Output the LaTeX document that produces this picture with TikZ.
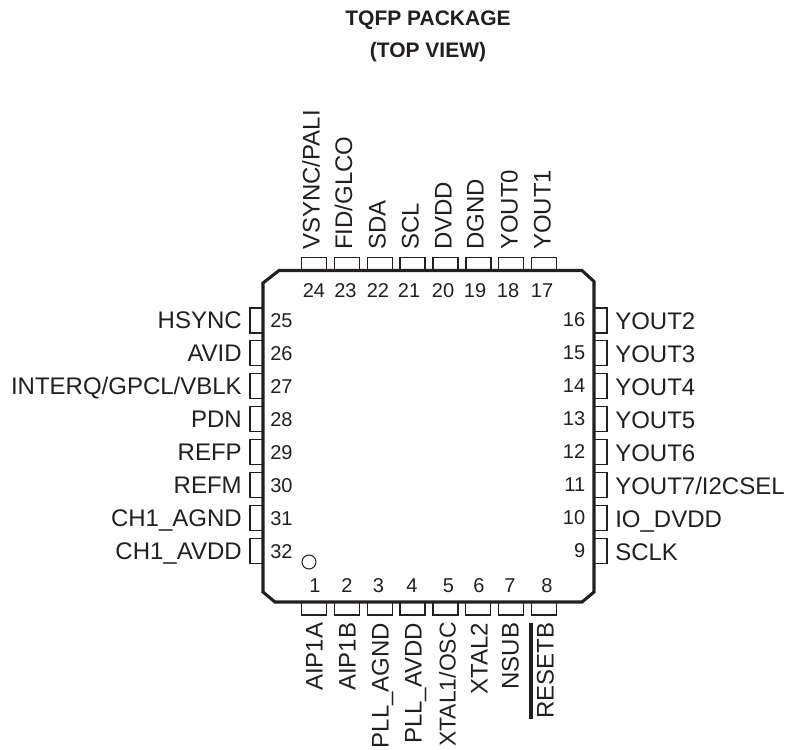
\documentclass[tikz,border=0pt]{standalone}
\usepackage{fontspec}
\setmainfont{Liberation Sans}
\definecolor{ink}{HTML}{231F20}
\tikzset{
  pinbox/.style={draw=ink, line width=1.4pt, rectangle, inner sep=0pt},
  pinh/.style={pinbox, minimum width=18.75pt, minimum height=9.75pt},
  pinv/.style={pinbox, minimum width=9.75pt, minimum height=18.75pt},
  pinnum/.style={text=ink, inner sep=0pt, font=\fontsize{15}{18}\selectfont, text height=10.8pt, text depth=0pt},
  pinname/.style={text=ink, inner sep=0pt, font=\fontsize{18}{20}\selectfont, text height=12.9pt, text depth=0pt},
  topname/.style={pinname, rotate=90, anchor=west},
  botname/.style={pinname, rotate=90, anchor=east},
  lefname/.style={pinname, anchor=east},
  rigname/.style={pinname, anchor=west},
}
\begin{document}
\begin{tikzpicture}[x=0.75pt, y=-0.75pt]
\useasboundingbox (0,0) rectangle (786,750);

\node[text=ink, align=center, font=\fontsize{15.75}{24}\selectfont\bfseries] (title) at (428,36) {TQFP PACKAGE\\(TOP VIEW)};

% top row
\node[pinh] (p24) at (314,264) {};
\node[pinh] (p23) at (347,264) {};
\node[pinh] (p22) at (380,264) {};
\node[pinh] (p21) at (412.7,264) {};
\node[pinh] (p20) at (445.5,264) {};
\node[pinh] (p19) at (478.5,264) {};
\node[pinh] (p18) at (511,264) {};
\node[pinh] (p17) at (544,264) {};
\node[pinnum] (t24) at (314,290) {24};
\node[pinnum] (t23) at (345.5,290) {23};
\node[pinnum] (t22) at (378,290) {22};
\node[pinnum] (t21) at (409,290) {21};
\node[pinnum] (t20) at (443,290) {20};
\node[pinnum] (t19) at (475,290) {19};
\node[pinnum] (t18) at (508,290) {18};
\node[pinnum] (t17) at (542,290) {17};
\node[topname] (n24) at (311,250) {VSYNC/PALI};
\node[topname] (n23) at (343.5,250) {FID/GLCO};
\node[topname] (n22) at (377,250) {SDA};
\node[topname] (n21) at (410,250) {SCL};
\node[topname] (n20) at (443,250) {DVDD};
\node[topname] (n19) at (475,250) {DGND};
\node[topname] (n18) at (509,250) {YOUT0};
\node[topname] (n17) at (542,250) {YOUT1};

% bottom row
\node[pinh] (p1) at (314,608.5) {};
\node[pinh] (p2) at (347,608.5) {};
\node[pinh] (p3) at (380,608.5) {};
\node[pinh] (p4) at (412.5,608.5) {};
\node[pinh] (p5) at (445.5,608.5) {};
\node[pinh] (p6) at (478,608.5) {};
\node[pinh] (p7) at (511,608.5) {};
\node[pinh] (p8) at (544,608.5) {};
\node[pinnum] (t1) at (315,585.5) {1};
\node[pinnum] (t2) at (347,585.5) {2};
\node[pinnum] (t3) at (378.5,585.5) {3};
\node[pinnum] (t4) at (412,585.5) {4};
\node[pinnum] (t5) at (448.5,585.5) {5};
\node[pinnum] (t6) at (479,585.5) {6};
\node[pinnum] (t7) at (510,585.5) {7};
\node[pinnum] (t8) at (547,585.5) {8};
\node[botname] (n1) at (314,622.5) {AIP1A};
\node[botname] (n2) at (347,622.5) {AIP1B};
\node[botname] (n3) at (380,622.5) {PLL\_AGND};
\node[botname] (n4) at (413,622.5) {PLL\_AVDD};
\node[botname, font=\fontsize{17.2}{20}\selectfont] (n5) at (447,622) {XTAL1/OSC};
\node[botname] (n6) at (479,622.5) {XTAL2};
\node[botname] (n7) at (510,622.5) {NSUB};
\node[botname] (n8) at (545,622.5) {RESETB};
\draw[ink, line width=2.8pt] ([xshift=-3.8pt]n8.north east) -- ([xshift=-3.8pt]n8.north west);

% left row
\node[pinv] (p25) at (256.5,320.5) {};
\node[pinv] (p26) at (256.5,353) {};
\node[pinv] (p27) at (256.5,386) {};
\node[pinv] (p28) at (256.5,419) {};
\node[pinv] (p29) at (256.5,452) {};
\node[pinv] (p30) at (256.5,485) {};
\node[pinv] (p31) at (256.5,518) {};
\node[pinv] (p32) at (256.5,551) {};
\node[pinnum, anchor=west] (t25) at (270,320) {25};
\node[pinnum, anchor=west] (t26) at (270,353) {26};
\node[pinnum, anchor=west] (t27) at (270,386) {27};
\node[pinnum, anchor=west] (t28) at (270,419) {28};
\node[pinnum, anchor=west] (t29) at (270,452) {29};
\node[pinnum, anchor=west] (t30) at (270,485) {30};
\node[pinnum, anchor=west] (t31) at (270,518) {31};
\node[pinnum, anchor=west] (t32) at (270,551) {32};
\node[lefname] (n25) at (242,320) {HSYNC};
\node[lefname] (n26) at (242,353) {AVID};
\node[lefname] (n27) at (242,386) {INTERQ/GPCL/VBLK};
\node[lefname] (n28) at (242,419) {PDN};
\node[lefname] (n29) at (242,452) {REFP};
\node[lefname] (n30) at (242,485) {REFM};
\node[lefname] (n31) at (242,518) {CH1\_AGND};
\node[lefname] (n32) at (242,551) {CH1\_AVDD};

% right row
\node[pinv] (p16) at (600.7,320.5) {};
\node[pinv] (p15) at (600.7,353) {};
\node[pinv] (p14) at (600.7,386) {};
\node[pinv] (p13) at (600.7,419) {};
\node[pinv] (p12) at (600.7,452) {};
\node[pinv] (p11) at (600.7,485) {};
\node[pinv] (p10) at (600.7,518) {};
\node[pinv] (p9) at (600.7,551) {};
\node[pinnum, anchor=east] (t16) at (585.5,319.5) {16};
\node[pinnum, anchor=east] (t15) at (585.5,352.5) {15};
\node[pinnum, anchor=east] (t14) at (585.5,385.5) {14};
\node[pinnum, anchor=east] (t13) at (585.5,418.5) {13};
\node[pinnum, anchor=east] (t12) at (585.5,451.5) {12};
\node[pinnum, anchor=east] (t11) at (585.5,484.5) {11};
\node[pinnum, anchor=east] (t10) at (585.5,517.5) {10};
\node[pinnum, anchor=east] (t9) at (585.5,550.5) {9};
\node[rigname] (n16) at (615,320.5) {YOUT2};
\node[rigname] (n15) at (615,353.5) {YOUT3};
\node[rigname] (n14) at (615,386.5) {YOUT4};
\node[rigname] (n13) at (615,419.5) {YOUT5};
\node[rigname] (n12) at (615,452.5) {YOUT6};
\node[rigname] (n11) at (615,485.5) {YOUT7/I2CSEL};
\node[rigname] (n10) at (615,518.5) {IO\_DVDD};
\node[rigname] (n9) at (615,551.5) {SCLK};

% package outline
\draw[ink, line width=2.3pt] (279,270.5) -- (582,270.5) -- (594,281.5) -- (594,592) -- (582,602) -- (275,602) -- (263,592) -- (263,283) -- cycle;
\node[draw=ink, line width=0.8pt, circle, inner sep=0pt, minimum size=10.5pt] (dot1) at (309,562) {};
\end{tikzpicture}
\end{document}
